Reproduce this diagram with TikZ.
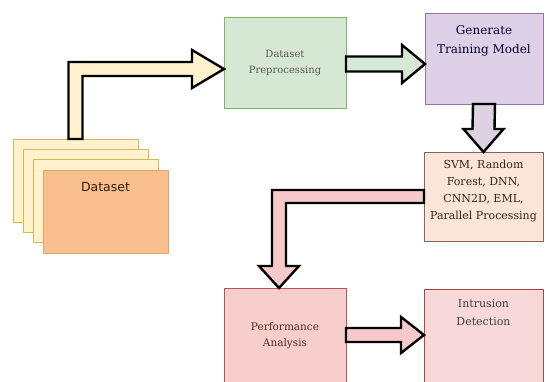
\documentclass[tikz,border=0pt]{standalone}
\usepackage{fontspec}
\setmainfont{DejaVu Serif}
\setsansfont{DejaVu Sans}
\usepackage{tikz}
\usetikzlibrary{calc}

\definecolor{pagefill}{HTML}{FFF2CC}
\definecolor{pageborder}{HTML}{D6B656}
\definecolor{frontfill}{HTML}{F9BF8F}
\definecolor{frontborder}{HTML}{E3A46E}
\definecolor{greenfill}{HTML}{D5E8D4}
\definecolor{greenborder}{HTML}{82B366}
\definecolor{purplefill}{HTML}{DED0E6}
\definecolor{purpleborder}{HTML}{9673A6}
\definecolor{algofill}{HTML}{FBE5D8}
\definecolor{algoborder}{HTML}{8A6457}
\definecolor{perffill}{HTML}{F8CECC}
\definecolor{perfborder}{HTML}{B85450}
\definecolor{detectfill}{HTML}{F8D8D8}
\definecolor{detectborder}{HTML}{A84646}
\definecolor{arrowpurple}{HTML}{DCD2E2}
\definecolor{arrowpink}{HTML}{F6CACA}

\begin{document}
\begin{tikzpicture}[
            x = 1pt, y = -1pt,
            box/.style = {
                draw = #1,
                line width = 1pt,
                rectangle,
                minimum height = 91pt,
                anchor = north west,
                inner sep = 0pt,
                outer sep = 0pt,
                align = center
            },
            box/.default = black,
            page/.style = {
                draw = pageborder,
                fill = pagefill,
                line width = 0.8pt,
                minimum width = 125pt,
                minimum height = 83pt,
                anchor = north west,
                inner sep = 0pt,
                outer sep = 0pt
            },
            blockarrow/.style = {
                draw = black,
                line width = 2.4pt,
                line join = miter
            }
            ]
            \useasboundingbox (0,0) rectangle (546,381);

            % stacked dataset pages
            \foreach \i in {0,1,2} {
                \node[page] (page\i) at (13+10*\i, 139+10.3*\i) {};
            }
            \node[page, draw=frontborder, fill=frontfill,
                label={[font=\sffamily\fontsize{12.5}{14}\selectfont, text=black!75!brown, anchor=north, yshift=-9pt]north:Dataset}] (dataset) at (43,170) {};

            \node[box=greenborder, fill=greenfill, minimum width=122pt,
                font=\fontsize{10}{16}\selectfont, text=black!65] (prep) at (224,17) {Dataset\\Preprocessing};
            \node[box=purpleborder, fill=purplefill, minimum width=118pt,
                label={[font=\fontsize{12}{19}\selectfont, text=black!80!blue, align=center, anchor=north, yshift=-9pt]north:Generate\\Training Model}] (train) at (425,13) {};
            \node[box=algoborder, fill=algofill, minimum width=119pt, minimum height=89pt,
                label={[font=\fontsize{11}{17}\selectfont, text=black!70!brown, align=center, anchor=north, yshift=-5pt]north:SVM, Random\\Forest, DNN,\\CNN2D, EML,\\Parallel Processing}] (algo) at (424,152) {};
            \node[box=perfborder, fill=perffill, minimum width=122pt, minimum height=96pt,
                font=\fontsize{10.5}{16}\selectfont, text=black!60!brown] (perf) at (224,288) {Performance\\Analysis};
            \node[box=detectborder, fill=detectfill, minimum width=119pt, minimum height=95pt,
                label={[font=\fontsize{11}{18}\selectfont, text=black!75, align=center, anchor=north, yshift=-7pt]north:Intrusion\\Detection}] (detect) at (424,289) {};

            % block arrows
            \coordinate (tip1) at ($(prep.west)+(0,6.5)$);
            \draw[blockarrow, fill=pagefill] ($(page0.north)+(-7,0)$) |- ($(tip1)+(-32,-7)$)
                -- ++(0,-12) -- (tip1) -- ++(-32,19) -- ++(0,-12) -| ($(page0.north)+(7,0)$) -- cycle;

            \coordinate (tip2) at ($(train.west)+(0,5.5)$);
            \draw[blockarrow, fill=greenfill] ($(prep.east |- tip2)+(0,-7.5)$) -- ($(tip2)+(-23,-7.5)$)
                -- ++(0,-11.5) -- (tip2) -- ++(-23,19) -- ++(0,-11.5) -- ($(prep.east |- tip2)+(0,7.5)$) -- cycle;

            \coordinate (tip3) at (algo.north);
            \draw[blockarrow, fill=arrowpurple] ($(train.south)+(-11,0)$) -- ($(tip3)+(-11,-23)$)
                -- ++(-9,0) -- (tip3) -- ++(20,-23) -- ++(-9,0) -- ($(train.south)+(11,0)$) -- cycle;

            \coordinate (tip4) at ($(perf.north)+(-6,0)$);
            \draw[blockarrow, fill=arrowpink] ($(algo.west)+(0,-6.5)$) -| ($(tip4)+(-7,-22)$)
                -- ++(-13,0) -- (tip4) -- ++(20,-22) -- ++(-13,0) |- ($(algo.west)+(0,6.5)$) -- cycle;

            \coordinate (tip5) at ($(detect.west)+(0,-1.5)$);
            \draw[blockarrow, fill=arrowpink] ($(perf.east |- tip5)+(0,-7)$) -- ($(tip5)+(-23,-7)$)
                -- ++(0,-11) -- (tip5) -- ++(-23,18) -- ++(0,-11) -- ($(perf.east |- tip5)+(0,7)$) -- cycle;
        \end{tikzpicture}
\end{document}
